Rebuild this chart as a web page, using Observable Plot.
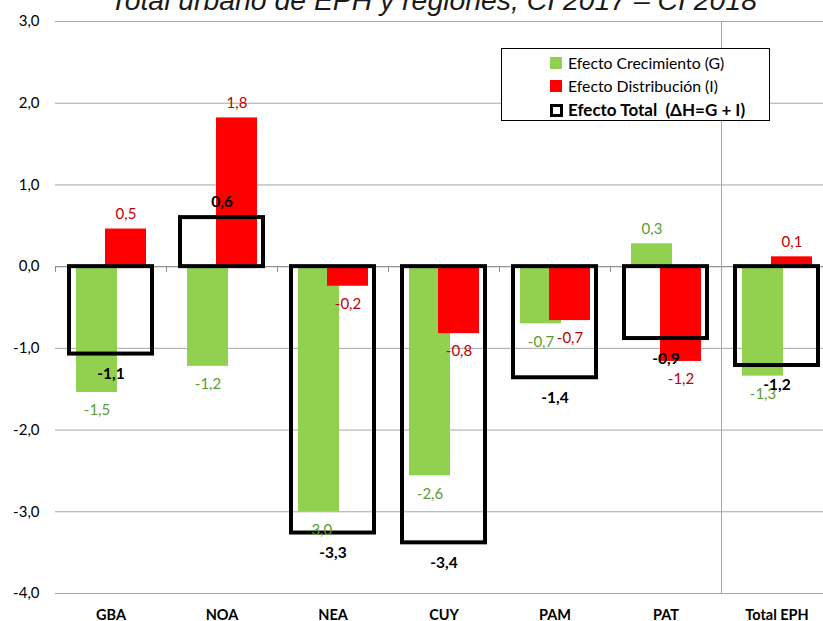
<!DOCTYPE html>
<html>
<head>
<meta charset="utf-8">
<script src="https://cdn.jsdelivr.net/npm/d3@7"></script>
<script src="https://cdn.jsdelivr.net/npm/@observablehq/plot@0.6"></script>
<style>
  html, body { margin: 0; padding: 0; background: #fff; overflow: hidden; }
  #wrap { position: relative; width: 823px; height: 621px; overflow: hidden; font-family: Lato, "Open Sans", sans-serif; }
  #chart { position: absolute; left: 0; top: 0; width: 832px; height: 621px; }
  #chart svg { max-width: none !important; width: 832px !important; height: 621px !important; }
  #title { position: absolute; left: 110px; top: -12px; white-space: nowrap; font-family: "Liberation Sans", Arial, sans-serif; font-style: italic; font-size: 26px; line-height: 26px; color: #1a1a1a; }
  #legend { position: absolute; left: 501px; top: 48px; width: 267px; height: 71px; border: 1px solid #000; background: #fff; }
  .lrow { position: absolute; left: 0; height: 20px; line-height: 20px; font-size: 15.8px; color: #000; white-space: pre; }
  .sw { position: absolute; top: 4px; width: 12px; height: 12px; box-sizing: border-box; }
</style>
</head>
<body>
<div id="wrap">
  <div id="chart"></div>
  <div id="title"></div>
  <div id="legend"></div>
</div>
<script>
// ---- data ----
const categories = ["GBA", "NOA", "NEA", "CUY", "PAM", "PAT", "Total EPH"];
const efectoCrecimiento = [-1.54, -1.22, -3.00, -2.56, -0.70, 0.28, -1.34];
const efectoDistribucion = [0.46, 1.82, -0.24, -0.82, -0.66, -1.16, 0.12];
const efectoTotal = [-1.07, 0.60, -3.26, -3.38, -1.36, -0.88, -1.21];
const yTicks = [-4, -3, -2, -1, 0, 1, 2, 3];
const seriesNames = ["Efecto Crecimiento (G)", "Efecto Distribución (I)", "Efecto Total  (ΔH=G + I)"];
const titleText = "Total urbano de EPH y regiones, CI 2017 – CI 2018";

// ---- styles ----
const GREEN = "#92D050", RED = "#FF0000";
const GREEN_TXT = "#5E9A32", RED_TXT = "#C00000";
const GRID = "#a6a6a6";

const rows = categories.map((c, k) => ({cat: c, g: efectoCrecimiento[k], i: efectoDistribucion[k], t: efectoTotal[k]}));
const fmt = v => v.toFixed(1).replace(".", ",");
const half = 111 / 2;

const chart = Plot.plot({
  width: 832,
  height: 621,
  marginLeft: 55,
  marginRight: 0,
  marginTop: 21,
  marginBottom: 28,
  x: {type: "band", domain: categories, padding: 0, label: null},
  y: {domain: [-4, 3], label: null},
  style: {fontFamily: "Lato, 'Open Sans', sans-serif", fontSize: "15px", background: "white", color: "#000"},
  marks: [
    Plot.gridY(yTicks, {stroke: GRID, strokeOpacity: 1}),
    Plot.ruleY([0], {stroke: "#8c8c8c"}),
    Plot.ruleX(categories, {x: d => d, y1: 0, y2: -0.07, dx: -half, stroke: "#8c8c8c"}),
    Plot.ruleX(categories.slice(-1), {x: d => d, dx: -half, stroke: GRID}),
    Plot.barY(rows, {x: "cat", y: "g", fill: GREEN, insetLeft: 21, insetRight: 49}),
    Plot.barY(rows, {x: "cat", y: "i", fill: RED, insetLeft: 50, insetRight: 20}),
    Plot.barY(rows, {x: "cat", y: "t", fill: "none", stroke: "#000", strokeWidth: 4, insetLeft: 14, insetRight: 14}),
    Plot.text(rows, {filter: d => d.g < 0, x: "cat", y: "g", text: d => fmt(d.g), dx: -14, dy: 18, fill: GREEN_TXT, fontSize: 15}),
    Plot.text(rows, {filter: d => d.g >= 0, x: "cat", y: "g", text: d => fmt(d.g), dx: -14, dy: -15, fill: GREEN_TXT, fontSize: 15}),
    Plot.text(rows, {filter: d => d.i < 0, x: "cat", y: "i", text: d => fmt(d.i), dx: 15, dy: 18, fill: RED_TXT, fontSize: 15}),
    Plot.text(rows, {filter: d => d.i >= 0, x: "cat", y: "i", text: d => fmt(d.i), dx: 15, dy: -15, fill: RED_TXT, fontSize: 15}),
    Plot.text(rows, {filter: d => d.t < 0, x: "cat", y: "t", text: d => fmt(d.t), dy: 20, fill: "#000", fontWeight: "bold", fontSize: 15.5}),
    Plot.text(rows, {filter: d => d.t >= 0, x: "cat", y: "t", text: d => fmt(d.t), dy: -16, fill: "#000", fontWeight: "bold", fontSize: 15.5}),
    Plot.axisY(yTicks, {tickSize: 0, tickPadding: 16, tickFormat: fmt, fontSize: 15, fill: "#000"}),
    Plot.axisX({tickSize: 0, tickPadding: 16, fontWeight: "bold", fontSize: 14.5, fill: "#000"})
  ]
});
document.getElementById("chart").appendChild(chart);

// title: fit to the reference width, baseline near the top edge
const titleEl = document.getElementById("title");
titleEl.textContent = titleText;
const targetW = 647;
const w0 = titleEl.getBoundingClientRect().width;
if (w0 > 0) {
  const fs = 26 * targetW / w0;
  titleEl.style.fontSize = fs + "px";
  titleEl.style.lineHeight = fs + "px";
  titleEl.style.top = (10 - 0.8465 * fs) + "px";
}

// legend
const legend = document.getElementById("legend");
const legendTops = [4, 27, 51];
seriesNames.forEach((name, k) => {
  const row = document.createElement("div");
  row.className = "lrow";
  row.style.top = legendTops[k] + "px";
  const sw = document.createElement("div");
  sw.className = "sw";
  sw.style.left = "48px";
  if (k === 0) sw.style.background = GREEN;
  else if (k === 1) sw.style.background = RED;
  else { sw.style.border = "3px solid #000"; sw.style.background = "#fff"; sw.style.width = "13px"; sw.style.height = "13px"; }
  row.appendChild(sw);
  const tx = document.createElement("span");
  tx.textContent = name;
  tx.style.position = "absolute";
  tx.style.left = "66px";
  if (k === 2) { tx.style.fontWeight = "bold"; tx.style.fontSize = "17px"; }
  row.appendChild(tx);
  legend.appendChild(row);
});
</script>
</body>
</html>
